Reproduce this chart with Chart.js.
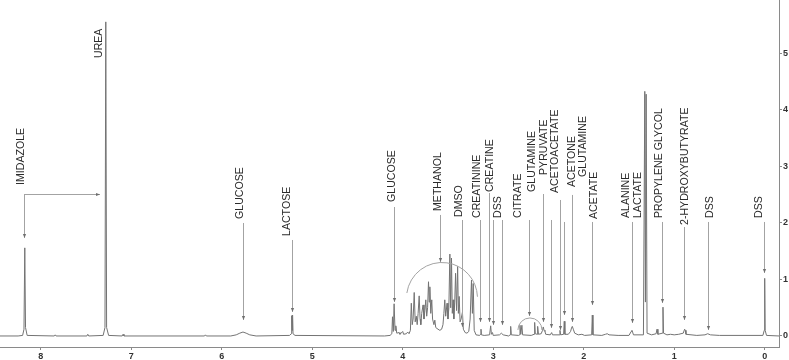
<!DOCTYPE html>
<html>
<head>
<meta charset="utf-8">
<script src="https://cdn.jsdelivr.net/npm/chart.js@4/dist/chart.umd.min.js"></script>
<style>
  html, body { margin: 0; padding: 0; background: #fff; }
  canvas { display: block; }
</style>
</head>
<body>
<canvas id="c" width="789" height="360" style="width:789px;height:360px"></canvas>
<script>
// ejes
const xTicks = [8, 7, 6, 5, 4, 3, 2, 1, 0];
const yTicks = [0, 1, 2, 3, 4, 5];

// espectro: [ppm, intensidad]
const spectrum = [
  [8.45, 0], [8.25, 0], [8.20, 0.01], [8.185, 0.12], [8.176, 1.56], [8.168, 0.15], [8.15, 0.01],
  [7.85, 0], [7.84, 0.02], [7.83, 0], [7.49, 0], [7.48, 0.03], [7.47, 0],
  [7.31, 0.01], [7.29, 0.15], [7.281, 5.56], [7.272, 0.15], [7.25, 0.01],
  [7.10, 0], [7.09, 0.03], [7.08, 0], [6.19, 0], [6.18, 0.02], [6.17, 0],
  [5.90, 0], [5.84, 0.02], [5.80, 0.05], [5.765, 0.07], [5.73, 0.05], [5.69, 0.02], [5.62, 0],
  [5.25, 0.01], [5.232, 0.04], [5.227, 0.36], [5.222, 0.1], [5.217, 0.37], [5.212, 0.04], [5.19, 0.01],
  [4.20, 0], [4.14, 0.01], [4.12, 0.04], [4.113, 0.34], [4.104, 0.08], [4.095, 0.57], [4.085, 0.1],
  [4.076, 0.18], [4.066, 0.05], [4.04, 0.06], [4.03, 0.03], [4.00, 0.08], [3.99, 0.03], [3.96, 0.04],
  [3.945, 0.07], [3.93, 0.04], [3.915, 0.1], [3.905, 0.58], [3.895, 0.2], [3.885, 0.3], [3.873, 0.77],
  [3.862, 0.25], [3.85, 0.35], [3.84, 0.2], [3.83, 0.4], [3.818, 0.71], [3.808, 0.3], [3.80, 0.2],
  [3.79, 0.4], [3.775, 0.55], [3.765, 0.3], [3.755, 0.45], [3.745, 0.64], [3.735, 0.35], [3.725, 0.5],
  [3.715, 0.96], [3.707, 0.6], [3.70, 0.87], [3.69, 0.4], [3.679, 0.64], [3.67, 0.3], [3.655, 0.2],
  [3.645, 0.28], [3.635, 0.15], [3.61, 0.12], [3.59, 0.1], [3.57, 0.12], [3.555, 0.2], [3.545, 0.4],
  [3.535, 0.64], [3.525, 0.35], [3.51, 0.58], [3.50, 0.3], [3.49, 0.5], [3.479, 1.45], [3.47, 0.5],
  [3.461, 1.38], [3.452, 0.4], [3.443, 0.64], [3.435, 0.3], [3.425, 0.6], [3.416, 1.11], [3.405, 0.45],
  [3.393, 1.23], [3.385, 0.4], [3.376, 0.7], [3.366, 0.25], [3.355, 0.3], [3.34, 0.42], [3.33, 0.12],
  [3.31, 0.06], [3.29, 0.05], [3.27, 0.08], [3.255, 0.3], [3.24, 0.99], [3.23, 0.4], [3.221, 0.93],
  [3.21, 0.1], [3.19, 0.02], [3.15, 0.01], [3.14, 0.03], [3.135, 0.12], [3.13, 0.02], [3.10, 0.01],
  [3.04, 0.02], [3.028, 0.18], [3.02, 0.03], [3.008, 0.06], [3.0, 0.01], [2.93, 0.02], [2.91, 0.05],
  [2.89, 0.02], [2.83, 0], [2.813, 0.02], [2.807, 0.17], [2.80, 0.02], [2.72, 0.01], [2.708, 0.02],
  [2.704, 0.19], [2.695, 0.03], [2.683, 0.19], [2.675, 0.02], [2.58, 0.01], [2.548, 0.03], [2.542, 0.24],
  [2.535, 0.04], [2.515, 0.03], [2.509, 0.17], [2.50, 0.03], [2.47, 0.04], [2.455, 0.1], [2.447, 0.16],
  [2.438, 0.1], [2.428, 0.08], [2.42, 0.03], [2.37, 0.02], [2.354, 0.06], [2.345, 0.02], [2.27, 0.02],
  [2.262, 0.1], [2.255, 0.02], [2.222, 0.03], [2.215, 0.26], [2.208, 0.03], [2.17, 0.03], [2.145, 0.08],
  [2.135, 0.14], [2.126, 0.17], [2.115, 0.12], [2.10, 0.05], [2.06, 0.02], [2.02, 0.03], [1.99, 0.01],
  [1.912, 0.02], [1.905, 0.37], [1.898, 0.02], [1.80, 0.01], [1.76, 0.03], [1.74, 0.04], [1.72, 0.02],
  [1.62, 0.01], [1.50, 0.01], [1.475, 0.08], [1.467, 0.1], [1.46, 0.07], [1.45, 0.02], [1.34, 0.02],
  [1.325, 4.33], [1.318, 0.6], [1.31, 4.28], [1.30, 0.05], [1.25, 0.02], [1.20, 0.04], [1.19, 0.12],
  [1.18, 0.03], [1.13, 0.05], [1.124, 0.51], [1.118, 0.05], [1.08, 0.02], [1.04, 0.03], [1.00, 0.02],
  [0.95, 0.03], [0.90, 0.05], [0.885, 0.12], [0.877, 0.1], [0.87, 0.03], [0.75, 0.01], [0.66, 0.02],
  [0.63, 0.04], [0.60, 0.02], [0.50, 0.01], [0.02, 0.01], [0.005, 0.1], [0.0, 1.02], [-0.005, 0.1],
  [-0.02, 0.01], [-0.158, 0]
];

// etiquetas: texto, ppm del centro, intensidad en la base del texto
const labelNames = ['IMIDAZOLE', 'UREA', 'GLUCOSE', 'LACTOSE', 'GLUCOSE', 'METHANOL', 'DMSO',
  'CREATININE', 'CREATINE', 'DSS', 'CITRATE', 'GLUTAMINE', 'PYRUVATE', 'ACETOACETATE', 'ACETONE',
  'GLUTAMINE', 'ACETATE', 'ALANINE', 'LACTATE', 'PROPYLENE GLYCOL', '2-HYDROXYBUTYRATE', 'DSS', 'DSS'];
const labelPpm = [8.218, 7.356, 5.798, 5.279, 4.119, 3.610, 3.378, 3.179, 3.036, 2.947, 2.726, 2.572,
  2.439, 2.317, 2.130, 2.008, 1.887, 1.533, 1.400, 1.168, 0.881, 0.605, 0.063];
const labelBase = [2.673, 4.920, 2.071, 1.770, 2.372, 2.212, 2.106, 2.088, 2.549, 2.088, 2.088, 2.549,
  2.850, 2.531, 2.637, 2.814, 2.071, 2.088, 2.088, 2.088, 1.965, 2.088, 2.088];

// flechas: [ppm, desde, hasta]
const guides = [
  [8.185, 2.513, 1.735], [5.765, 2.0, 0.283], [5.224, 1.699, 0.425], [4.096, 2.283, 0.602],
  [3.588, 2.142, 1.310], [3.345, 2.053, 0.159], [3.146, 2.053, 0.248], [3.047, 2.531, 0.248],
  [3.002, 2.053, 0.195], [2.903, 2.053, 0.195], [2.605, 2.053, 0.354], [2.450, 2.513, 0.248],
  [2.362, 2.053, 0.142], [2.262, 2.407, 0.106], [2.218, 2.018, 0.372], [2.130, 2.496, 0.248],
  [1.909, 2.018, 0.549], [1.467, 2.018, 0.230], [1.135, 2.018, 0.584], [0.892, 1.929, 0.283],
  [0.630, 2.018, 0.106], [0.011, 2.018, 1.115]
];
// imidazol -> urea (tramo horizontal)
const bracket = [8.185, 7.345, 2.513];
// arcos: [ppm centro, intensidad centro, radio ppm, ángulo inicio, ángulo fin] (grados)
const arcs = [
  [3.566, 0.673, 0.392, 188, 358],
  [2.594, 0.106, 0.133, 180, 360]
];

const LINE = '#a3a3a3';
const TEXT = '#2b2b2b';

function arrowHead(ctx, x, y, dir) {
  ctx.save();
  ctx.fillStyle = '#6e6e6e';
  ctx.beginPath();
  if (dir === 'down') {
    ctx.moveTo(x - 1.6, y - 4); ctx.lineTo(x + 1.6, y - 4); ctx.lineTo(x, y);
  } else {
    ctx.moveTo(x - 4, y - 1.6); ctx.lineTo(x - 4, y + 1.6); ctx.lineTo(x, y);
  }
  ctx.closePath();
  ctx.fill();
  ctx.restore();
}

const annotationPlugin = {
  id: 'anotaciones',
  afterDatasetsDraw(chart) {
    const ctx = chart.ctx;
    const xs = chart.scales.x, ys = chart.scales.y;
    ctx.save();
    ctx.strokeStyle = LINE;
    ctx.lineWidth = 1;

    guides.forEach(([p, a, b]) => {
      const x = Math.round(xs.getPixelForValue(p)) + 0.5;
      const y1 = ys.getPixelForValue(a), y2 = ys.getPixelForValue(b);
      ctx.beginPath(); ctx.moveTo(x, y1); ctx.lineTo(x, y2); ctx.stroke();
      arrowHead(ctx, x, y2, 'down');
    });

    const bx1 = Math.round(xs.getPixelForValue(bracket[0])) + 0.5;
    const bx2 = xs.getPixelForValue(bracket[1]);
    const by = Math.round(ys.getPixelForValue(bracket[2])) + 0.5;
    ctx.beginPath(); ctx.moveTo(bx1, by); ctx.lineTo(bx2, by); ctx.stroke();
    arrowHead(ctx, bx2, by, 'right');

    arcs.forEach(([p, v, r, a0, a1]) => {
      const cx = xs.getPixelForValue(p), cy = ys.getPixelForValue(v);
      const rp = Math.abs(xs.getPixelForValue(p + r) - cx);
      ctx.beginPath();
      ctx.arc(cx, cy, rp, a0 * Math.PI / 180, a1 * Math.PI / 180, false);
      ctx.stroke();
    });

    ctx.fillStyle = TEXT;
    ctx.font = '10.6px "Liberation Sans", Arial, sans-serif';
    ctx.textAlign = 'left';
    ctx.textBaseline = 'middle';
    labelNames.forEach((t, i) => {
      ctx.save();
      ctx.translate(xs.getPixelForValue(labelPpm[i]), ys.getPixelForValue(labelBase[i]));
      ctx.rotate(-Math.PI / 2);
      ctx.fillText(t, 0, 0);
      ctx.restore();
    });
    ctx.restore();
  }
};

new Chart(document.getElementById('c'), {
  type: 'scatter',
  data: {
    datasets: [{
      data: spectrum.map(([x, y]) => ({ x, y })),
      showLine: true,
      borderColor: '#737373',
      borderWidth: 1,
      pointRadius: 0,
      tension: 0
    }]
  },
  options: {
    responsive: false,
    animation: false,
    layout: { padding: 0 },
    plugins: { legend: { display: false }, tooltip: { enabled: false } },
    scales: {
      x: {
        type: 'linear',
        reverse: true,
        min: -0.158,
        max: 8.45,
        grid: { drawOnChartArea: false, tickLength: 3, color: '#8a8a8a' },
        border: { color: '#8a8a8a', width: 1 },
        ticks: { color: '#333', font: { family: 'Liberation Sans', size: 9, weight: 'bold' }, padding: 1, maxRotation: 0, autoSkip: false },
        afterBuildTicks: (axis) => { axis.ticks = xTicks.map(v => ({ value: v })); },
        afterFit: (axis) => { axis.height = 13; axis.paddingLeft = 0; axis.paddingRight = 0; }
      },
      y: {
        position: 'right',
        min: -0.195,
        max: 5.947,
        grid: { drawOnChartArea: false, tickLength: 3, color: '#8a8a8a' },
        border: { color: '#8a8a8a', width: 1 },
        ticks: { color: '#333', font: { family: 'Liberation Sans', size: 9, weight: 'bold' }, padding: 1 },
        afterBuildTicks: (axis) => { axis.ticks = yTicks.map(v => ({ value: v })); },
        afterFit: (axis) => { axis.width = 10; axis.paddingTop = 0; axis.paddingBottom = 0; }
      }
    }
  },
  plugins: [annotationPlugin]
});
</script>
</body>
</html>
